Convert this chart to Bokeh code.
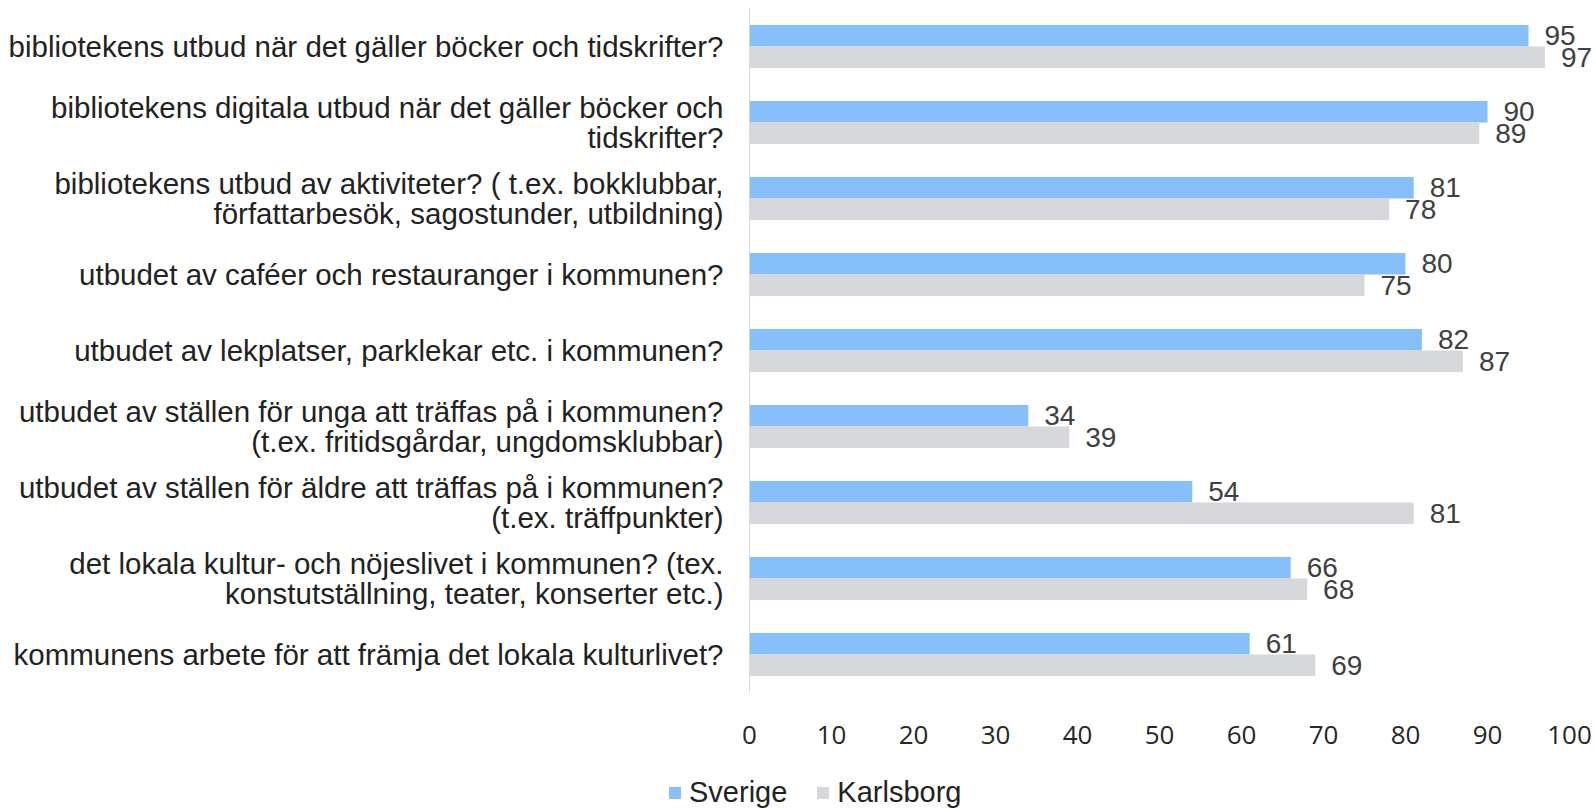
from bokeh.plotting import figure
from bokeh.models import ColumnDataSource, FactorRange, FixedTicker, Legend, LegendItem, Spacer
from bokeh.layouts import column, row
from bokeh.transform import dodge
from bokeh.core.properties import value
from bokeh.embed import file_html
from bokeh.resources import INLINE

categories = [
    "bibliotekens utbud när det gäller böcker och tidskrifter?",
    "bibliotekens digitala utbud när det gäller böcker och\ntidskrifter?",
    "bibliotekens utbud av aktiviteter? ( t.ex. bokklubbar,\nförfattarbesök, sagostunder, utbildning)",
    "utbudet av caféer och restauranger i kommunen?",
    "utbudet av lekplatser, parklekar etc. i kommunen?",
    "utbudet av ställen för unga att träffas på i kommunen?\n(t.ex. fritidsgårdar, ungdomsklubbar)",
    "utbudet av ställen för äldre att träffas på i kommunen?\n(t.ex. träffpunkter)",
    "det lokala kultur- och nöjeslivet i kommunen? (tex.\nkonstutställning, teater, konserter etc.)",
    "kommunens arbete för att främja det lokala kulturlivet?",
]
sverige = [95, 90, 81, 80, 82, 34, 54, 66, 61]
karlsborg = [97, 89, 78, 75, 87, 39, 81, 68, 69]
series_names = ["Sverige", "Karlsborg"]
x_ticks = [0, 10, 20, 30, 40, 50, 60, 70, 80, 90, 100]

BLUE = "#86BFF9"
GRAY = "#D6D7DB"

src = ColumnDataSource(dict(
    cat=categories,
    sv=sverige,
    ka=karlsborg,
    sv_lbl=[str(v) for v in sverige],
    ka_lbl=[str(v) for v in karlsborg],
))

W = 1596
H_MAIN = 765
H_LEG = 809 - H_MAIN
FRAME_LEFT = 749
PX_PER_UNIT = 8.2
LEG_LEFT = 667
x_end = (W - FRAME_LEFT) / PX_PER_UNIT

p = figure(
    width=W, height=H_MAIN,
    y_range=FactorRange(factors=list(reversed(categories))),
    x_range=(0, x_end),
    output_backend="svg", toolbar_location=None,
    min_border_left=FRAME_LEFT, min_border_right=0,
    min_border_top=8, min_border_bottom=H_MAIN - 8 - 684,
)
p.outline_line_color = None
p.xgrid.visible = False
p.ygrid.visible = False
p.background_fill_color = "white"
p.border_fill_color = "white"

off = 0.141
hb = 0.283
r_sv = p.hbar(y=dodge("cat", off, range=p.y_range), right="sv", left=0, height=hb,
              source=src, fill_color=BLUE, line_color=None)
r_ka = p.hbar(y=dodge("cat", -off, range=p.y_range), right="ka", left=0, height=hb,
              source=src, fill_color=GRAY, line_color=None)

lbl_kw = dict(text_font=value("Liberation Sans"), text_font_size="28px",
              text_color="#404040", text_baseline="middle", text_align="left",
              x_offset=16)
p.text(x="sv", y=dodge("cat", off, range=p.y_range), text="sv_lbl", source=src, **lbl_kw)
p.text(x="ka", y=dodge("cat", -off, range=p.y_range), text="ka_lbl", source=src, **lbl_kw)

# y axis
ya = p.yaxis[0]
ya.axis_line_color = "#D9D9D9"
ya.axis_line_width = 1
ya.major_tick_line_color = None
ya.minor_tick_line_color = None
ya.major_tick_out = 0
ya.major_tick_in = 0
ya.major_label_standoff = 26
ya.major_label_text_font = "Liberation Sans"
ya.major_label_text_font_size = "29.5px"
ya.major_label_text_color = "#222222"
ya.major_label_text_line_height = 0.91

# x axis
xa = p.xaxis[0]
xa.ticker = FixedTicker(ticks=x_ticks)
xa.axis_line_color = None
xa.major_tick_line_color = None
xa.minor_tick_line_color = None
xa.major_tick_out = 0
xa.major_tick_in = 0
xa.major_label_standoff = 33
xa.major_label_text_font = "Open Sans"
xa.major_label_text_font_size = "26px"
xa.major_label_text_color = "#262626"

# legend strip
lg = figure(
    width=W - LEG_LEFT, height=H_LEG, x_range=(0, 1), y_range=(0, 1),
    output_backend="svg", toolbar_location=None,
    x_axis_location=None, y_axis_location=None,
    min_border_left=0, min_border_right=0, min_border_top=0, min_border_bottom=0,
)
lg.outline_line_color = None
lg.xgrid.visible = False
lg.ygrid.visible = False
lg.background_fill_color = "white"
lg.border_fill_color = "white"
# swatch-only renderers, kept outside the visible range
hidden = ColumnDataSource(dict(y=[5], r=[5]))
d_sv = lg.hbar(y="y", right="r", left=4, height=0.5, source=hidden, fill_color=BLUE, line_color=None)
d_ka = lg.hbar(y="y", right="r", left=4, height=0.5, source=hidden, fill_color=GRAY, line_color=None)

legend = Legend(
    items=[LegendItem(label=series_names[0], renderers=[d_sv]),
           LegendItem(label=series_names[1], renderers=[d_ka])],
    orientation="horizontal",
    location="bottom_left",
    label_text_font="Liberation Sans",
    label_text_font_size="29px",
    label_text_color="#222222",
    glyph_width=15, glyph_height=15,
    label_standoff=7, spacing=28,
    padding=0, margin=0,
    border_line_color=None,
    background_fill_alpha=0,
)
lg.add_layout(legend, "center")

layout = column(p, row(Spacer(width=LEG_LEFT, height=H_LEG), lg, spacing=0), spacing=0)
open("out.html", "w").write(file_html(layout, INLINE))
